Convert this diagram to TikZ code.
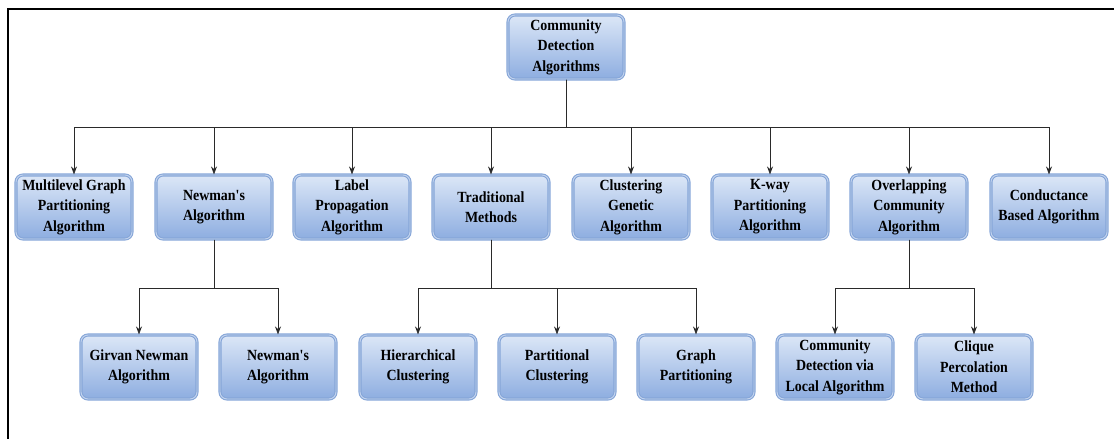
\documentclass[tikz,border=0pt]{standalone}
\usepackage{fontspec}
\setmainfont{Liberation Serif}
\newfontfamily\boxfont{Liberation Serif}[FakeStretch=0.9]
\usetikzlibrary{arrows.meta}
\definecolor{boxtop}{HTML}{DCE7F7}
\definecolor{boxbot}{HTML}{8DADE0}
\definecolor{boxedge}{HTML}{86A6D8}
\definecolor{boxrim}{HTML}{C3D4EE}
\definecolor{wire}{HTML}{2A2A2A}
\newcommand{\apos}{\char"0027\relax}
\tikzset{
  algbox/.style={rectangle, rounded corners=7pt, top color=boxtop, bottom color=boxbot,
    draw=boxedge, line width=1.1pt, double=boxrim, double distance=0.9pt,
    minimum width=116pt, minimum height=64pt, align=center, text=black,
    font=\boxfont\fontsize{15.5}{20.5}\selectfont\bfseries, inner sep=1pt},
  feed/.style={draw=wire, line width=0.8pt, -{Stealth[length=8pt,width=6pt]}},
}
\begin{document}
\begin{tikzpicture}[x=1pt,y=-1pt]
\useasboundingbox (0,0) rectangle (1114,439);
% frame
\draw[line width=2.2pt] (8,439) -- (8,9) -- (1114,9);

% root
\node[algbox] (root) at (566,47) {Community\\Detection\\Algorithms};

% first level
\node[algbox] (mgp)  at (74,207)   {Multilevel Graph\\Partitioning\\Algorithm};
\node[algbox] (newm) at (214,207)  {Newman\apos s\\Algorithm};
\node[algbox] (lpa)  at (352,207)  {Label\\Propagation\\Algorithm};
\node[algbox] (trad) at (491,207)  {Traditional\\Methods};
\node[algbox] (cga)  at (631,207)  {Clustering\\Genetic\\Algorithm};
\node[algbox] (kway) at (770,207)  {K-way\\Partitioning\\Algorithm};
\node[algbox] (oca)  at (909,207)  {Overlapping\\Community\\Algorithm};
\node[algbox] (cba)  at (1049,207) {Conductance\\Based Algorithm};

% second level
\node[algbox] (gn)   at (139,367) {Girvan Newman\\Algorithm};
\node[algbox] (newa) at (278,367) {Newman\apos s\\Algorithm};
\node[algbox] (hier) at (418,367) {Hierarchical\\Clustering};
\node[algbox] (part) at (557,367) {Partitional\\Clustering};
\node[algbox] (gp)   at (696,367) {Graph\\Partitioning};
\node[algbox] (cdl)  at (835,367) {Community\\Detection via\\Local Algorithm};
\node[algbox] (cpm)  at (974,367) {Clique\\Percolation\\Method};

% bus levels
\coordinate (busA) at (0,127);
\coordinate (busB) at (0,288);

% root to first level
\foreach \c in {mgp,newm,lpa,trad,cga,kway,oca,cba}
  \draw[feed] (root.south) -- (root.south |- busA) -| (\c.north);

% first level to second level
\foreach \p/\c in {newm/gn, newm/newa, trad/hier, trad/part, trad/gp, oca/cdl, oca/cpm}
  \draw[feed] (\p.south) -- (\p.south |- busB) -| (\c.north);
\end{tikzpicture}
\end{document}
